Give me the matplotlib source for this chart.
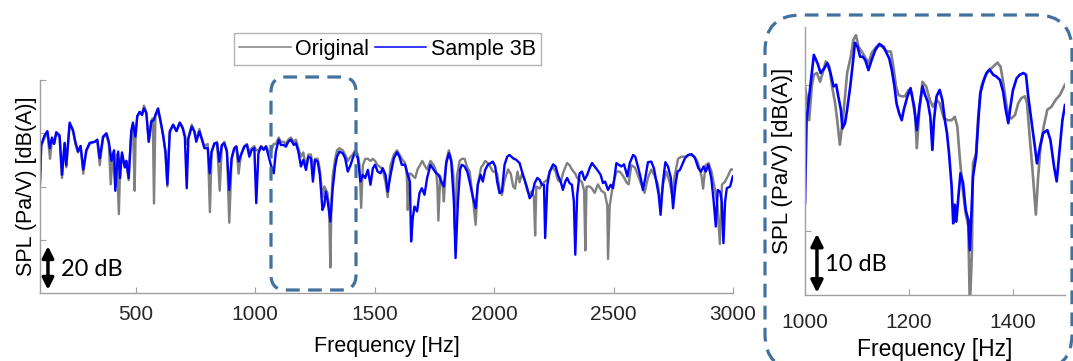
import numpy as np
import matplotlib
matplotlib.use('Agg')
import matplotlib.pyplot as plt
from matplotlib.patches import FancyBboxPatch

plt.rcParams['font.family'] = ['Liberation Sans', 'DejaVu Sans']

# ---- full band, Sample 3B (blue) ----
samp_f = [100, 105, 119, 131, 141, 150, 159, 168, 182, 192, 203, 210, 224, 238, 248, 259, 270, 281, 294, 308,
          329, 340, 350, 364, 378, 388, 399, 410, 415, 427, 435, 443, 455, 461, 471, 482, 489, 499, 507, 517,
          527, 535, 545, 555, 566, 576, 583, 594, 605, 615, 625, 633, 643, 657, 671, 685,
          697, 706, 714, 721, 735, 746, 754, 767, 776, 788, 802, 810, 818, 830, 841, 850, 861, 871, 882, 892,
          902, 913, 922, 931, 941, 955, 966, 976, 986, 997, 1005, 1014, 1025, 1036, 1046, 1055, 1066, 1078,
          1087, 1099, 1108, 1120, 1129, 1139, 1150, 1162, 1171, 1181, 1192, 1202, 1213, 1223, 1234, 1242,
          1251, 1262, 1271,
          1282, 1290, 1296, 1303, 1315, 1325, 1335, 1343, 1353, 1367, 1377, 1388, 1400, 1409, 1419, 1430,
          1441, 1451, 1461, 1472, 1483, 1493, 1502, 1513, 1525, 1534, 1546, 1555, 1567, 1581, 1594, 1604,
          1614, 1628, 1639, 1648, 1653, 1660, 1667, 1678, 1688, 1698, 1709, 1720, 1734, 1748, 1758, 1768,
          1779, 1790, 1800, 1811, 1821, 1832, 1839, 1849, 1858,
          1865, 1877, 1888, 1898, 1911, 1923, 1932, 1944, 1953, 1963, 1974, 1986, 1995, 2005, 2013, 2023,
          2033, 2044, 2055, 2065, 2079, 2093, 2107, 2117, 2128, 2139, 2149, 2159, 2170, 2181, 2191, 2200,
          2209, 2214, 2223, 2233, 2247, 2258, 2267, 2279, 2288, 2298, 2306, 2316, 2326, 2334, 2340, 2348,
          2358, 2368, 2379, 2390, 2400, 2410, 2421, 2432,
          2446, 2456, 2465, 2477, 2488, 2498, 2512, 2522, 2533, 2544, 2558, 2568, 2582, 2591, 2602, 2614,
          2623, 2633, 2644, 2658, 2669, 2679, 2689, 2697, 2707, 2717, 2728, 2740, 2749, 2759, 2768, 2778,
          2787, 2799, 2813, 2827, 2841, 2855, 2866, 2877, 2886, 2897, 2909, 2918, 2928, 2936, 2946, 2953,
          2960, 2967, 2974, 2988, 2999]
samp_db = [-49, -30.5, -26, -24, -32, -27, -30, -24.5, -26, -44.5, -29.5, -40, -20, -23.5, -29, -33.6, -31, -42, -33, -29.5,
           -29, -28, -36.7, -26.6, -25, -29, -38, -33, -52, -33.6, -46, -34, -41, -38, -46, -24, -20, -26.6, -17, -15,
           -16.4, -13.3, -15.6, -29, -19.5, -18.8, -16.4, -13.3, -19.5, -25.8, -33.6, -49, -24, -21, -24, -20,
           -22.7, -26.6, -50.8, -27.4, -21.9, -24.2, -29, -24.2, -27.4, -32, -32, -43.8, -33.6, -29.7, -29.7, -38.3, -30.5, -29.7, -33.6, -51.6,
           -36.7, -32, -31.3, -38.3, -35.2, -31.3, -30.5, -36, -32.8, -32, -57.8, -34.4, -31.3, -32.8, -31.3, -35.2, -39.8, -43.8,
           -33.6, -28, -30.5, -30.5, -31.3, -29, -28, -30.5, -29.7, -33.6, -40.6, -37.5, -42.2, -36, -36.7, -47.7,
           -37.5, -38.3, -44.5,
           -61, -58.6, -52.4, -56.3, -66.4, -50.8, -40.6, -36, -33.6, -34.4, -36.7, -43, -39.8, -36.7, -33.6, -36.7,
           -47.7, -44.5, -46, -42.2, -49.2, -41.4, -39.8, -43, -43.8, -41.4, -44.5, -52.4, -44.5, -36.7, -33.9, -36,
           -39.8, -39.8, -44.5, -47.7, -75.8, -64.8, -59.4, -61.7, -53.1, -50.8, -53.9, -46, -39.8, -42.2, -43.8, -44.5,
           -47.7, -50, -39, -34.4, -38.3, -57, -83.6, -57, -42,
           -39.8, -40.6, -43, -47.7, -54.7, -60.2, -49.2, -44.5, -47.7, -42.2, -39.8, -39, -38.3, -40.6, -47.7, -53.1,
           -52.4, -39.8, -36, -35.2, -36.7, -37.5, -39, -43, -46.9, -50.8, -55.5, -53.9, -48.4, -46, -46.9, -49.2,
           -49.2, -74.2, -49.2, -43, -39.6, -40.6, -44.5, -47.7, -51.6, -47.7, -46, -48.4, -49.2, -57, -82, -53.9,
           -43.8, -43, -46.9, -44.5, -41.4, -39, -40.6, -42.2,
           -44.5, -48.4, -47.7, -51.6, -49.2, -50.8, -39, -39.8, -40.6, -39.6, -45.3, -39, -35.2, -36, -40.6, -46,
           -51.6, -46, -38.6, -38.3, -41.4, -47.7, -53.9, -63.3, -47.7, -38.6, -40.6, -46, -60.2, -49.2, -43, -42.2,
           -39.8, -36.7, -35.2, -34.8, -36.7, -41.4, -43, -40.6, -43, -39.8, -46, -55.5, -68.8, -51.6, -52.4, -57,
           -76.6, -57, -50.8, -50, -45.3]

# ---- full band, Original (gray) ----
orig_f = [100, 105, 119, 131, 142, 150, 159, 168, 182, 192, 203, 210, 224, 238, 248, 259, 270, 281, 294, 308,
          329, 340, 350, 364, 378, 388, 396, 405, 415, 421, 430, 436, 443, 455, 461, 471, 482, 489, 496, 500,
          507, 517, 527, 535, 545, 555, 566, 572, 577, 583, 594, 605, 615, 625, 633, 643, 657, 671, 685,
          697, 706, 714, 721, 735, 746, 754, 767, 776, 788, 802, 811, 818, 830, 841, 852, 861, 871, 882, 892,
          902, 913, 922, 931, 941, 955, 966, 976, 986, 997, 1005, 1014, 1025, 1036, 1046, 1055, 1066, 1078,
          1087, 1099, 1108, 1120, 1129, 1139, 1150, 1162, 1171, 1181, 1192, 1202, 1213, 1223, 1234, 1242,
          1251, 1262, 1271, 1282, 1290, 1303, 1310, 1315, 1320, 1325, 1335, 1343, 1353, 1367, 1377, 1388,
          1400, 1409, 1419, 1430, 1437, 1444, 1451, 1461, 1472, 1483, 1493, 1502, 1513, 1525, 1534, 1546,
          1555, 1567, 1581, 1594, 1604, 1614, 1628, 1635, 1639, 1645, 1653, 1660, 1670, 1680, 1690, 1700,
          1709, 1720, 1734, 1748, 1758, 1763, 1767, 1775, 1785, 1790, 1800, 1811, 1821, 1830, 1836, 1845,
          1856, 1865, 1877,
          1888, 1898, 1911, 1923, 1932, 1946, 1953, 1963, 1974, 1986, 1995, 2005, 2013, 2023, 2033, 2044,
          2059, 2070, 2080, 2088, 2098, 2107, 2117, 2128, 2139, 2149, 2159, 2167, 2172, 2177, 2191, 2200,
          2209, 2223, 2233, 2247, 2258, 2267, 2279, 2288, 2298, 2306, 2316, 2326, 2340, 2348, 2358, 2368,
          2377, 2382, 2387, 2400, 2410, 2421, 2435,
          2449, 2463, 2474, 2477, 2484, 2498, 2512, 2526, 2540, 2554, 2563, 2575, 2589, 2603, 2616, 2630,
          2644, 2658, 2672, 2686, 2697, 2707, 2721, 2735, 2745, 2756, 2770, 2784, 2798, 2819, 2840, 2854,
          2868, 2875, 2885, 2898, 2910, 2924, 2935, 2945, 2954, 2965, 2979, 2991, 3000]
orig_db = [-47, -31, -27, -25, -37, -28, -30, -25, -27, -46, -30, -41, -21, -24, -30, -34, -31, -44, -33, -30,
           -29, -29, -40, -27, -26, -30, -49, -34, -50, -35, -63, -38, -35, -41, -38, -47, -24, -21, -52, -27,
           -17, -15, -16, -12, -15, -29, -19, -18, -58, -17, -14, -20, -26, -34, -50, -25, -21, -24, -20,
           -22, -26, -30, -27, -21, -24, -28, -23, -27, -31, -30, -62, -34, -30, -29, -52, -31, -29, -33, -67,
           -37, -32, -31, -44, -35, -31, -30, -34, -32, -31, -33, -33, -31, -32, -31, -33, -34, -30,
           -30, -27, -29, -29, -30, -28, -27, -29, -28, -32, -36, -34, -41, -35, -35, -42,
           -37, -37, -42, -55, -50, -53, -60, -88, -55, -45, -37, -33, -32, -33, -35, -38,
           -36, -35, -33, -35, -40, -60, -40, -37, -37, -38, -37, -38, -40, -41, -42, -48,
           -55, -40, -35, -33, -35, -37, -39, -45, -61, -44, -44, -45, -46, -42, -40, -38,
           -40, -42, -38, -40, -43, -50, -66, -45, -50, -57, -38, -33, -37, -45, -70, -45,
           -38, -37, -37,
           -41, -43, -55, -68, -49, -41, -40, -38, -39, -41, -43, -43, -44, -51, -54, -47,
           -42, -44, -50, -51, -43, -48, -44, -47, -52, -54, -52, -55, -73, -50, -51, -49,
           -48, -47, -43, -41, -43, -47, -48, -44, -41, -39, -40, -42, -44, -46, -47, -48,
           -52, -80, -50, -50, -51, -53, -49,
           -52, -53, -59, -84, -59, -49, -43, -43, -45, -48, -49, -40, -41, -45, -49, -53,
           -46, -42, -45, -49, -59, -49, -43, -48, -54, -45, -37, -36, -36, -35, -36, -39,
           -45, -51, -40, -39, -43, -51, -59, -77, -49, -48, -45, -42, -42]

# ---- zoomed band 1000-1500 Hz ----
zsamp_f = [1000, 1003, 1008, 1017, 1024, 1030, 1037, 1043, 1049, 1055, 1060, 1064, 1069, 1072, 1077, 1081,
           1087, 1092, 1096, 1101, 1106, 1111, 1116, 1122, 1128, 1135, 1143, 1151, 1157, 1162, 1167, 1172,
           1176, 1181, 1186, 1190, 1197, 1203, 1210, 1215, 1220, 1226, 1231, 1236, 1241, 1245, 1248, 1253,
           1259, 1264, 1269, 1273, 1277, 1282, 1285, 1288, 1291, 1295, 1299, 1304, 1309, 1314, 1317, 1320,
           1323, 1329, 1333, 1337, 1343, 1349, 1355, 1362, 1368, 1375, 1381, 1386, 1391, 1395, 1400, 1407,
           1413, 1420, 1425, 1429, 1436, 1442, 1446, 1452, 1458, 1466, 1472, 1479, 1484, 1489, 1495, 1500]
zsamp_db = [-30.2, -16, -11.9, -4.8, -6.2, -7.9, -7.1, -6.2, -7.9, -10.2, -9.9, -11.9, -14.2, -17.4, -16.5, -14.2,
            -10.2, -6.2, -2.7, -3.4, -5.1, -5.1, -5.7, -7.4, -5.7, -4, -2.9, -3.4, -4.5, -5.4, -7.4, -10.2,
            -13.1, -14.8, -16, -14.2, -11.9, -10.5, -13.7, -17.7, -13.7, -10.2, -11.7, -12.8, -15.4, -21.1, -16, -11.9,
            -10.8, -12.5, -16, -18.2, -21.7, -27.4, -33.7, -30.5, -33.4, -29.1, -25.1, -26.8, -31.4, -33.1, -38.3, -32,
            -25.7, -22.2, -16.5, -11.4, -9.4, -7.9, -7.3, -8.2, -8.5, -9.1, -11.1, -14.2, -16.5, -13.7, -10.8, -8.8,
            -8.2, -7.9, -8.2, -11.7, -16.5, -20.5, -23.4, -20.5, -18.2, -17.7, -19.4, -24, -26.5, -21.7, -16, -13.4]
zorig_f = [1000, 1003, 1008, 1013, 1017, 1023, 1029, 1034, 1040, 1047, 1052, 1058, 1062, 1067, 1072, 1077,
           1081, 1088, 1093, 1098, 1103, 1109, 1115, 1122, 1128, 1137, 1144, 1152, 1158, 1165, 1170, 1175,
           1180, 1186, 1192, 1199, 1205, 1212, 1215, 1220, 1226, 1233, 1240, 1246, 1253, 1259, 1267, 1275,
           1282, 1288, 1293, 1298, 1304, 1309, 1314, 1317, 1321, 1323, 1329, 1333, 1339, 1346, 1354, 1362,
           1370, 1376, 1381, 1386, 1391, 1397, 1404, 1410, 1416, 1423, 1427, 1432, 1437, 1444, 1448, 1453,
           1459, 1466, 1474, 1482, 1490, 1495, 1500]
zorig_db = [-10.2, -11.9, -16, -10.2, -8.2, -7.9, -9.4, -7.9, -5.9, -6.8, -10.2, -13.1, -16, -20.2, -16.5, -11.9,
            -7.9, -5.1, -2.2, -1.4, -3.4, -4.2, -5.1, -6.2, -4.5, -3.4, -3.1, -3.7, -4.2, -4.2, -6.8, -10.2,
            -11.7, -11.9, -11.9, -10.8, -11.4, -15.4, -20.8, -14.2, -9.4, -10.2, -12.5, -13.7, -12.5, -13.1, -15.7, -16,
            -16, -15.4, -17.1, -22.8, -28.5, -32, -34.2, -48, -38.8, -23.4, -21.7, -15.4, -10.2, -8.5, -7.4, -6.8,
            -6.1, -6.8, -9.4, -12.5, -15.4, -15.7, -15.1, -13.1, -12.2, -11.9, -13.1, -18.8, -24, -32.2, -26.2, -20.5,
            -17.1, -14.2, -13.7, -12.5, -11.7, -10.8, -9.9]

GRAY = '#808080'
BLUE = '#0000ff'
AXC = '#a0a0a0'
BOXC = '#41719c'

fig = plt.figure(figsize=(10.73, 3.61), dpi=100)


def style_axes(ax):
    for s in ['top', 'right']:
        ax.spines[s].set_visible(False)
    for s in ['left', 'bottom']:
        ax.spines[s].set_color(AXC)
        ax.spines[s].set_linewidth(1.0)
    ax.tick_params(direction='in', length=4, color=AXC, labelcolor='#262626', labelsize=15)
    ax.tick_params(axis='y', labelleft=False)


# main panel
ax = fig.add_axes([40 / 1073, 68 / 361, 693 / 1073, 213 / 361])
ax.plot(orig_f, orig_db, color=GRAY, lw=1.7, label='Original')
ax.plot(samp_f, samp_db, color=BLUE, lw=1.7, label='Sample 3B')
ax.set_xlim(100, 3000)
ax.set_ylim(-100, 0)
ax.set_xticks([500, 1000, 1500, 2000, 2500, 3000])
ax.set_yticks([-75, -50, -25, 0])
style_axes(ax)
ax.tick_params(axis='x', pad=9)
ax.set_xlabel('Frequency [Hz]', fontsize=15.5, labelpad=8)
ax.set_ylabel('SPL (Pa/V) [dB(A)]', fontsize=15.5)
ax.yaxis.set_label_coords(-0.004, 0.5)

ax.annotate('', xy=(0.0115, -98.5), xytext=(0.0115, -78), xycoords=('axes fraction', 'data'),
            textcoords=('axes fraction', 'data'),
            arrowprops=dict(arrowstyle='<|-|>', color='black', lw=2.5, mutation_scale=17, shrinkA=0, shrinkB=0))
ax.text(0.031, 0.108, '20 dB', transform=ax.transAxes, fontsize=17, family=['Lato', 'DejaVu Sans'],
        ha='left', va='center', color='black')

leg = fig.legend(loc='center', bbox_to_anchor=(387.5 / 1073, 1 - 49 / 361), ncol=2, fontsize=15.5,
                 frameon=True, fancybox=False, edgecolor=AXC, handlelength=2.4, handletextpad=0.2,
                 columnspacing=0.25, borderpad=0.25, borderaxespad=0)
for h in leg.legend_handles:
    h.set_linewidth(1.1)
leg.get_frame().set_linewidth(1.0)

# zoomed panel
ax2 = fig.add_axes([805 / 1073, 66 / 361, 260 / 1073, 268 / 361])
ax2.plot(zorig_f, zorig_db, color=GRAY, lw=1.9)
ax2.plot(zsamp_f, zsamp_db, color=BLUE, lw=1.9)
ax2.set_xlim(1000, 1500)
ax2.set_ylim(-46, 0)
ax2.set_xticks([1000, 1200, 1400])
ax2.set_yticks([-35, -10])
style_axes(ax2)
ax2.tick_params(axis='x', pad=13)
ax2.set_xlabel('Frequency [Hz]', fontsize=16.5, labelpad=4)
ax2.set_ylabel('SPL (Pa/V) [dB(A)]', fontsize=16)
ax2.yaxis.set_label_coords(-0.046, 0.5)

ax2.annotate('', xy=(0.046, -45.6), xytext=(0.046, -35.5), xycoords=('axes fraction', 'data'),
             textcoords=('axes fraction', 'data'),
             arrowprops=dict(arrowstyle='<|-|>', color='black', lw=2.5, mutation_scale=18, shrinkA=0, shrinkB=0))
ax2.text(0.077, 0.112, '10 dB', transform=ax2.transAxes, fontsize=17, family=['Lato', 'DejaVu Sans'],
         ha='left', va='center', color='black')

# dashed rounded frames (inches from lower-left corner)
small = FancyBboxPatch((2.71, 0.71), 0.85, 2.13, boxstyle='round,pad=0,rounding_size=0.15',
                       transform=fig.dpi_scale_trans, fill=False, edgecolor=BOXC, lw=2.3,
                       linestyle=(0, (4.3, 2.6)), clip_on=False)
fig.add_artist(small)
big = FancyBboxPatch((7.65, -0.09), 3.07, 3.55, boxstyle='round,pad=0,rounding_size=0.36',
                     transform=fig.dpi_scale_trans, fill=False, edgecolor=BOXC, lw=2.3,
                     linestyle=(0, (4.3, 2.6)), clip_on=False)
fig.add_artist(big)

fig.savefig('out.png', dpi=100)
